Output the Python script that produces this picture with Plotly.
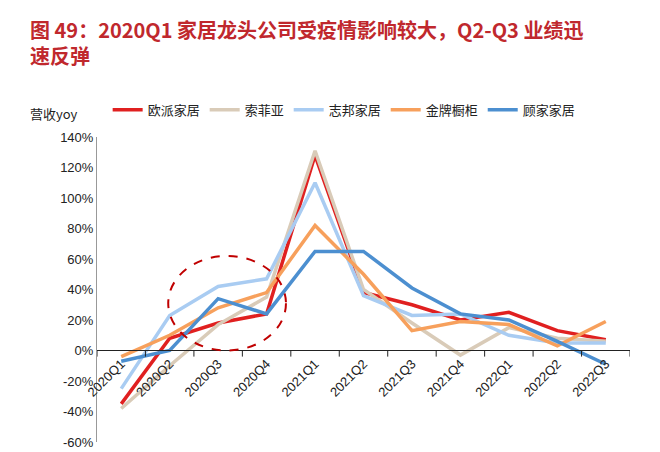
import plotly.graph_objects as go

quarters = ["2020Q1","2020Q2","2020Q3","2020Q4","2021Q1","2021Q2","2021Q3","2021Q4","2022Q1","2022Q2","2022Q3"]
oppein = [-35, 8, 18, 24, 128, 38, 30, 20, 25, 13, 7]
sofia = [-38, -10, 17, 35, 131, 40, 18, -3, 15, 8, 6]
zbom = [-25, 23, 42, 47, 110, 36, 23, 24, 10, 5, 5]
goldenhome = [-4, 10, 28, 38, 82, 50, 13, 19, 17, 3, 19]
kuka = [-7, 0, 34, 24, 65, 65, 41, 24, 20, 6, -9]
y_ticks = [-60, -40, -20, 0, 20, 40, 60, 80, 100, 120, 140]

series = [("欧派家居", oppein, "#E02020"), ("索菲亚", sofia, "#D9CBB8"),
          ("志邦家居", zbom, "#A9CCF2"), ("金牌橱柜", goldenhome, "#F7A05C"),
          ("顾家家居", kuka, "#4C8FD0")]

fig = go.Figure()
for name, vals, col in series:
    fig.add_trace(go.Scatter(x=list(range(len(quarters))), y=vals, name=name, mode="lines",
                             line=dict(color=col, width=3.5)))

font = "Noto Sans CJK SC"
fig.update_layout(
    width=660, height=452, plot_bgcolor="white", paper_bgcolor="white",
    margin=dict(l=89, r=38, t=129, b=10),
    font=dict(family=font, size=13, color="#222"),
    showlegend=True,
    legend=dict(orientation="h", x=0.02, y=1.04, xanchor="left", yanchor="bottom",
                font=dict(size=13), itemwidth=30, tracegroupgap=0),
    xaxis=dict(range=[-0.5, 10.5], tickmode="array", tickvals=list(range(len(quarters))),
               ticktext=quarters, tickangle=-45, showgrid=False, showline=True,
               linecolor="#222", anchor="free", position=0.3013, ticks="",
               tickfont=dict(size=13, family="Liberation Sans")),
    yaxis=dict(range=[-60, 140], tickvals=y_ticks, ticktext=[f"{v}%" for v in y_ticks],
               showgrid=False, showline=True, linecolor="#999", zeroline=False,
               tickfont=dict(size=13, family="Liberation Sans")),
)
for i in range(len(quarters) + 1):
    fig.add_shape(type="line", xref="x", yref="y", x0=i - 0.5, x1=i - 0.5, y0=0, y1=-4,
                  line=dict(color="#222", width=1))
fig.add_shape(type="circle", xref="x", yref="y", x0=0.97, x1=3.4, y0=0, y1=62,
              line=dict(color="#C00000", width=2, dash="dash"))
fig.add_annotation(text="图 49：2020Q1 家居龙头公司受疫情影响较大，Q2-Q3 业绩迅<br>速反弹",
                   xref="paper", yref="paper", x=-0.13, y=1.0, yshift=124, xanchor="left", yanchor="top",
                   showarrow=False, align="left",
                   font=dict(size=20, color="#C0282D", family=font, weight="bold"))
fig.add_annotation(text="营收yoy", xref="paper", yref="paper", x=-0.13, y=1.04, xanchor="left",
                   yanchor="bottom", showarrow=False, font=dict(size=13))
fig.write_html("out.html")
